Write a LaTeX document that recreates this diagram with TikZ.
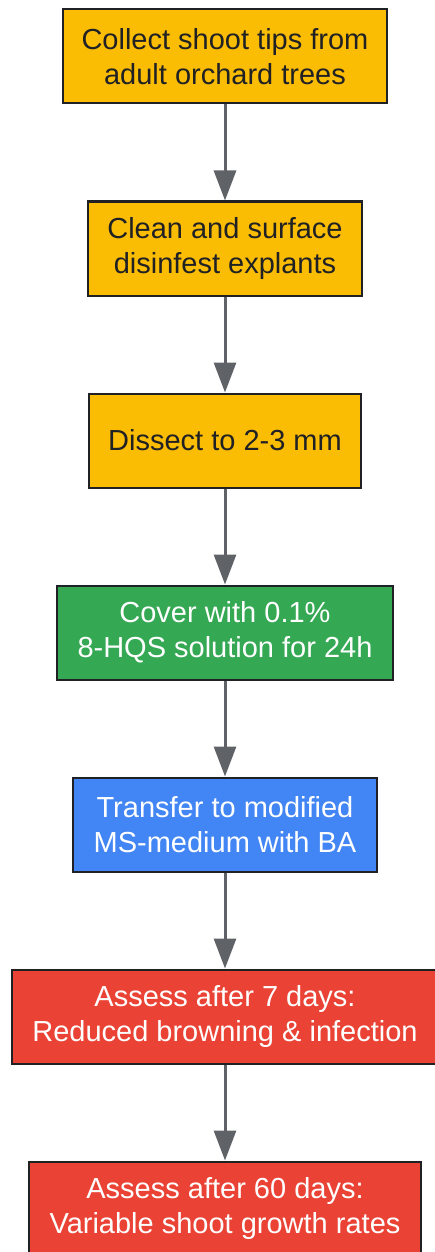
\documentclass[tikz,border=0pt]{standalone}
\usepackage{fontspec}
\setmainfont{Liberation Sans}
\usetikzlibrary{arrows.meta,positioning}
\definecolor{boxyellow}{HTML}{FBBC04}
\definecolor{boxgreen}{HTML}{34A853}
\definecolor{boxblue}{HTML}{4285F4}
\definecolor{boxred}{HTML}{EA4335}
\definecolor{linegray}{HTML}{5F6368}
\definecolor{textdark}{HTML}{202124}
\begin{document}
\begin{tikzpicture}[x=1pt,y=1pt,
  node distance=96pt,
  stepbox/.style={draw=textdark, line width=2pt, minimum height=94pt, align=center,
    inner sep=0pt, font=\fontsize{29}{35}\selectfont},
  flow/.style={draw=linegray, line width=3pt, -{Triangle[length=30pt,width=22pt]}}]
\useasboundingbox (0,0) rectangle (434,-1252);
\node (collect) at (225,-56.5) [stepbox, fill=boxyellow, text=textdark, minimum width=324pt] {Collect shoot tips from\\adult orchard trees};
\node (clean) [stepbox, fill=boxyellow, text=textdark, minimum width=274pt, below=of collect] {Clean and surface\\disinfest explants};
\node (dissect) [stepbox, fill=boxyellow, text=textdark, minimum width=272pt, below=of clean] {Dissect to 2-3 mm};
\node (cover) [stepbox, fill=boxgreen, text=white, minimum width=336pt, below=of dissect] {Cover with 0.1\%\\8-HQS solution for 24h};
\node (transfer) [stepbox, fill=boxblue, text=white, minimum width=304pt, below=of cover] {Transfer to modified\\MS-medium with BA};
\node (seven) [stepbox, fill=boxred, text=white, minimum width=426pt, below=of transfer] {Assess after 7 days:\\Reduced browning \& infection};
\node (sixty) [stepbox, fill=boxred, text=white, minimum width=392pt, below=of seven] {Assess after 60 days:\\Variable shoot growth rates};
\draw[flow] (collect)--(clean);
\draw[flow] (clean)--(dissect);
\draw[flow] (dissect)--(cover);
\draw[flow] (cover)--(transfer);
\draw[flow] (transfer)--(seven);
\draw[flow] (seven)--(sixty);
\end{tikzpicture}
\end{document}
